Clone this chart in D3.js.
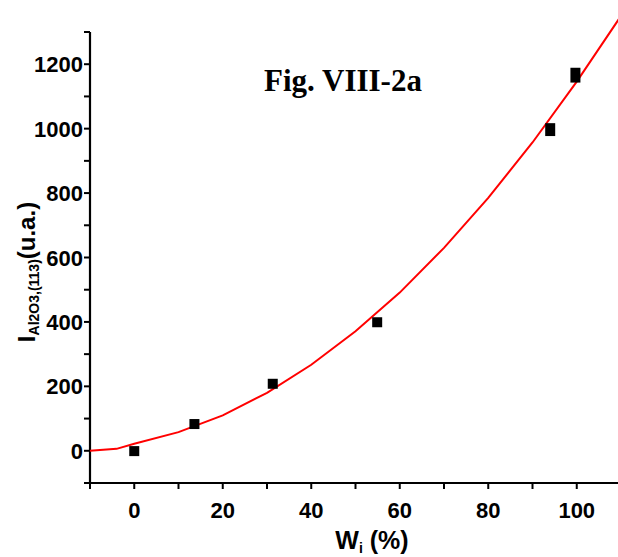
<!DOCTYPE html>
<html><head><meta charset="utf-8">
<script src="https://cdn.jsdelivr.net/npm/d3@7"></script>
<style>body{margin:0;background:#fff}svg{display:block}</style>
</head><body>
<svg id="c" width="618" height="557"></svg>
<script>
// Data
const wi = [0, 13.6, 31.3, 54.9, 94.0, 99.7];
const intensity = [-1, 83, 208, 399, 997, 1166];
const err = [0, 0, 0, 0, 20, 23];
const fitX = [-10, -4, 0, 10, 20, 30, 40, 50, 60, 70, 80, 90, 100, 110];
const fitY = [0, 6, 22, 58, 110, 180, 267, 371, 491, 630, 785, 957, 1146, 1350];
const xTicks = [0, 20, 40, 60, 80, 100];
const yTicks = [0, 200, 400, 600, 800, 1000, 1200];
const title = "Fig. VIII-2a";

const svg = d3.select("#c");
const x = d3.scaleLinear().domain([-10, 110]).range([90, 621]);
const y = d3.scaleLinear().domain([-100, 1300]).range([483, 32]);
const font = "'Liberation Sans', Arial, sans-serif";

// axes
const xAxis = svg.append("g").attr("transform", "translate(0,483)");
xAxis.append("line").attr("x1", x(-10)).attr("x2", 618).attr("stroke", "#000").attr("stroke-width", 2.2);
xAxis.selectAll("line.minor").data(d3.range(-10, 111, 10)).enter().append("line")
  .attr("x1", d => x(d)).attr("x2", d => x(d)).attr("y1", 0).attr("y2", 6)
  .attr("stroke", "#000").attr("stroke-width", 2);
xAxis.selectAll("text").data(xTicks).enter().append("text")
  .attr("x", d => x(d)).attr("y", 35).attr("text-anchor", "middle")
  .attr("font-family", font).attr("font-weight", "bold").attr("font-size", 22)
  .text(d => d);

const yAxis = svg.append("g").attr("transform", "translate(90,0)");
yAxis.append("line").attr("y1", y(-100)).attr("y2", y(1300)).attr("stroke", "#000").attr("stroke-width", 2.2);
yAxis.selectAll("line.minor").data(d3.range(-100, 1301, 100)).enter().append("line")
  .attr("x1", -6).attr("x2", 0).attr("y1", d => y(d)).attr("y2", d => y(d))
  .attr("stroke", "#000").attr("stroke-width", 2);
yAxis.selectAll("text").data(yTicks).enter().append("text")
  .attr("x", -7).attr("y", d => y(d)).attr("dy", "0.37em").attr("text-anchor", "end")
  .attr("font-family", font).attr("font-weight", "bold").attr("font-size", 22)
  .text(d => d);

// fit curve
svg.append("path").datum(fitX.map((d, i) => [d, fitY[i]]))
  .attr("d", d3.line().x(d => x(d[0])).y(d => y(d[1])))
  .attr("fill", "none").attr("stroke", "#ff0000").attr("stroke-width", 2);

// markers
const ms = 10;
svg.selectAll("rect.pt").data(wi).enter().append("rect")
  .attr("x", d => x(d) - ms / 2)
  .attr("y", (d, i) => Math.min(y(intensity[i]) - ms / 2, y(intensity[i] + err[i])))
  .attr("width", ms)
  .attr("height", (d, i) => Math.max(ms, y(intensity[i] - err[i]) - y(intensity[i] + err[i])))
  .attr("fill", "#000");

// title
svg.append("text").attr("x", 343).attr("y", 91).attr("text-anchor", "middle")
  .attr("font-family", "'Liberation Serif', 'Times New Roman', serif").attr("font-weight", "bold")
  .attr("font-size", 31).text(title);

// x label
const xl = svg.append("text").attr("x", 372).attr("y", 549).attr("text-anchor", "middle")
  .attr("font-family", font).attr("font-weight", "bold").attr("font-size", 25);
xl.append("tspan").text("W");
xl.append("tspan").attr("font-size", 14).attr("dy", 4).text("i");
xl.append("tspan").attr("dy", -4).text(" (%)");

// y label
const yl = svg.append("text").attr("transform", "translate(35,272) rotate(-90)")
  .attr("text-anchor", "middle")
  .attr("font-family", font).attr("font-weight", "bold").attr("font-size", 24);
yl.append("tspan").text("I");
yl.append("tspan").attr("font-size", 14).attr("dy", 4).text("Al2O3,(113)");
yl.append("tspan").attr("dy", -4).text("(u.a.)");
</script>
</body></html>
